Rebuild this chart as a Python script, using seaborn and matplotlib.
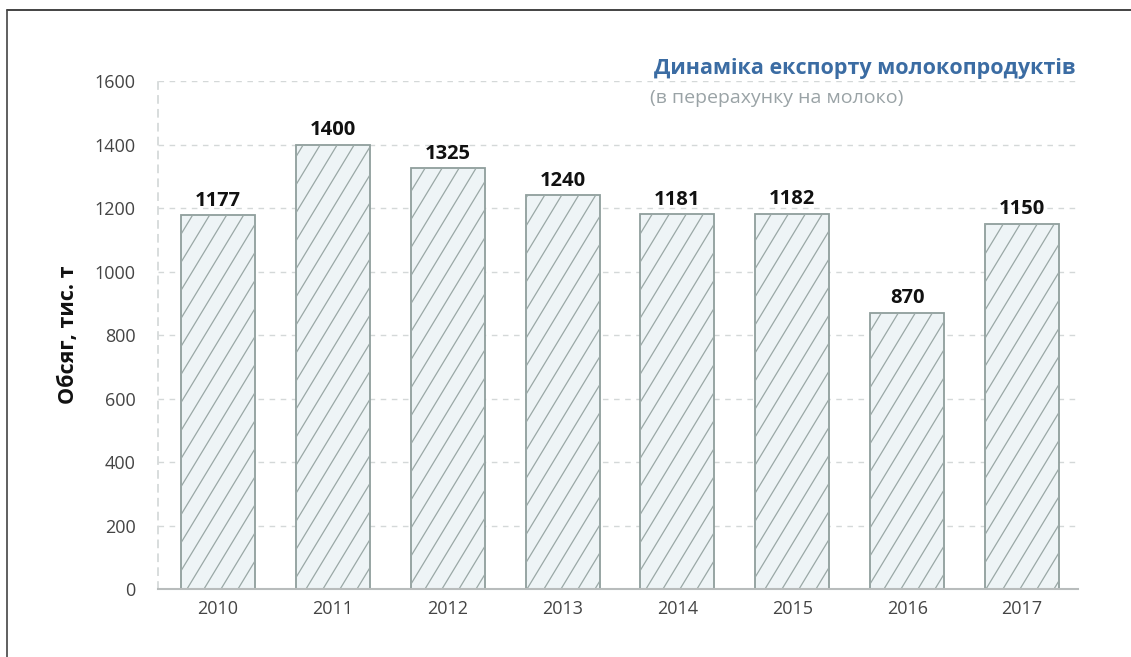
import matplotlib
matplotlib.use("Agg")
import matplotlib.pyplot as plt
import seaborn as sns
import pandas as pd
import numpy as np
from matplotlib.lines import Line2D
from matplotlib.collections import LineCollection
from matplotlib.transforms import IdentityTransform

years = ["2010", "2011", "2012", "2013", "2014", "2015", "2016", "2017"]
values = [1177, 1400, 1325, 1240, 1181, 1182, 870, 1150]
yticks = [0, 200, 400, 600, 800, 1000, 1200, 1400, 1600]
title = "Динаміка експорту молокопродуктів"
subtitle = "(в перерахунку на молоко)"
ylabel = "Обсяг, тис. т"

sns.set_theme(style="white")
plt.rcParams['font.family'] = ['Open Sans', 'DejaVu Sans']

df = pd.DataFrame({"year": years, "value": values})

fig = plt.figure(figsize=(11.31, 6.57), dpi=100)
ax = fig.add_axes([0.1397, 0.1035, 0.8134, 0.7732])

sns.barplot(data=df, x="year", y="value", ax=ax, color="#eef4f6",
            width=0.644, edgecolor="#8f9e9c", linewidth=1.3, saturation=1)

ax.set_ylim(0, 1600)
ax.set_xlim(-0.522, 7.487)
ax.set_yticks(yticks)
ax.set_yticklabels([str(t) for t in yticks])
ax.yaxis.grid(True, linestyle=(0, (4, 4)), color="#d4d8d8", linewidth=1)
ax.set_axisbelow(True)
for s in ["top", "right"]:
    ax.spines[s].set_visible(False)
ax.spines["left"].set_color("#d4d8d8")
ax.spines["left"].set_linestyle((0, (4, 4)))
ax.spines["bottom"].set_color("#b8bcbc")
ax.spines["bottom"].set_linewidth(1.5)
ax.tick_params(axis="both", length=0, labelsize=13, colors="#444444")
ax.tick_params(axis="x", pad=8)
ax.tick_params(axis="y", pad=16)
ax.set_xlabel("")
ax.set_ylabel(ylabel, fontsize=15.5, fontweight="bold", color="#111111", labelpad=11)

for i, v in enumerate(values):
    ax.text(i, v + 14, str(v), ha="center", va="bottom", fontsize=14.5,
            fontweight="bold", color="#111111")

# custom steep hatch (styling only), clipped to each bar
fig.canvas.draw()
spacing = 17.0
slope = 1.65
for p in list(ax.patches):
    bb = p.get_window_extent()
    h = bb.y1 - bb.y0
    run = h / slope
    start = np.floor((bb.x0 - run) / spacing) * spacing
    xs = np.arange(start, bb.x1 + spacing, spacing)
    segs = [[(x, bb.y0), (x + run, bb.y1)] for x in xs]
    lc = LineCollection(segs, colors="#9aa8a6", linewidths=0.9,
                        transform=IdentityTransform(), zorder=p.get_zorder() + 0.05)
    ax.add_collection(lc, autolim=False)
    lc.set_clip_path(p)

fig.text(0.9505, 0.896, title, ha="right", va="center", fontsize=15.5,
         fontweight="bold", color="#3b6ca3")
fig.text(0.5745, 0.851, subtitle, ha="left", va="center", fontsize=14,
         color="#9aa3a6")

fig.add_artist(Line2D([0.006, 1.0], [0.985, 0.985], color="#222222", linewidth=1.2,
                      transform=fig.transFigure))
fig.add_artist(Line2D([0.006, 0.006], [0.0, 0.985], color="#444444", linewidth=1.2,
                      transform=fig.transFigure))

fig.savefig("out.png", dpi=100)
